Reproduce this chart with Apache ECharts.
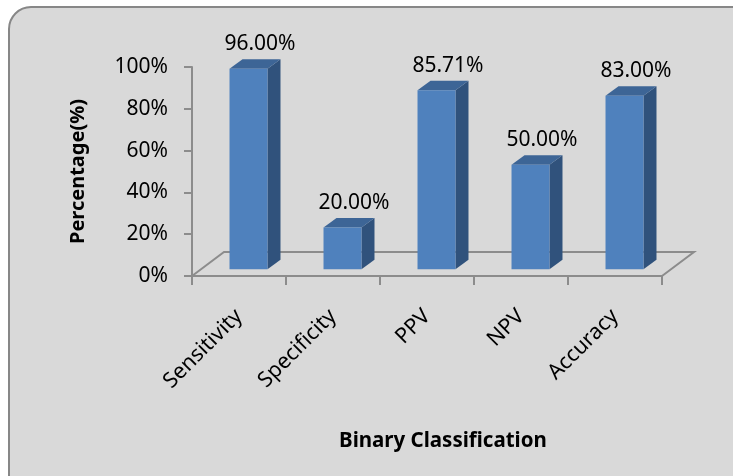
<!DOCTYPE html>
<html>
<head>
<meta charset="utf-8">
<script src="https://cdn.jsdelivr.net/npm/echarts@6/dist/echarts.min.js"></script>
<style>
html,body{margin:0;padding:0;background:#ffffff;}
#chart{width:733px;height:476px;}
</style>
</head>
<body>
<div id="chart"></div>
<script>
var categories = ['Sensitivity', 'Specificity', 'PPV', 'NPV', 'Accuracy'];
var values = [96.00, 20.00, 85.71, 50.00, 83.00];
var yTicks = [0, 20, 40, 60, 80, 100];

var FONT = '"Noto Sans", sans-serif';
var chart = echarts.init(document.getElementById('chart'));

var barData = categories.map(function (c, i) { return [i, values[i]]; });

function renderBar(params, api) {
  var i = api.value(0), v = api.value(1);
  var base = api.coord([i, 0]);
  var top = api.coord([i, v]);
  var cw = api.size([1, 0])[0];
  var w = cw * 0.404;
  var ox = 9.5, oy = -6.7, dx = 13, dy = -9.5;
  var x0 = base[0] + ox - w / 2, x1 = x0 + w;
  var yb = base[1] + oy, yt = top[1] + oy;
  return {
    type: 'group',
    children: [
      { type: 'polygon', shape: { points: [[x1, yt], [x1 + dx, yt + dy], [x1 + dx, yb + dy], [x1, yb]] },
        style: { fill: '#30527c' } },
      { type: 'polygon', shape: { points: [[x0, yt], [x0 + dx, yt + dy], [x1 + dx, yt + dy], [x1, yt]] },
        style: { fill: '#3d6596' } },
      { type: 'rect', shape: { x: x0, y: yt, width: w, height: yb - yt },
        style: { fill: '#4f81bd' } },
      { type: 'text', style: { text: v.toFixed(2) + '%', x: x0 + w / 2 + 11.5, y: yt + dy - 15,
        textAlign: 'center', textVerticalAlign: 'middle', font: '21px ' + FONT, fill: '#000' } }
    ]
  };
}

function renderFloor(params, api) {
  var cs = params.coordSys;
  var fx = 32, fy = -24;
  var bx = cs.x, by = cs.y + cs.height, ex = cs.x + cs.width;
  return {
    type: 'polyline',
    shape: { points: [[bx, by], [bx + fx, by + fy], [ex + fx, by + fy], [ex, by]] },
    style: { stroke: '#8c8c8c', lineWidth: 2, fill: null }
  };
}

chart.setOption({
  animation: false,
  backgroundColor: '#ffffff',
  graphic: [{
    type: 'rect', z: -10,
    shape: { x: 9, y: 7, width: 760, height: 500, r: 22 },
    style: { fill: '#d9d9d9', stroke: '#878787', lineWidth: 2 }
  }],
  title: {
    text: 'Binary Classification',
    left: 334, top: 426,
    textStyle: { fontFamily: FONT, fontWeight: 'bold', fontSize: 20.5, color: '#000' }
  },
  grid: { left: 192, right: 71, top: 67, bottom: 200 },
  xAxis: {
    type: 'category',
    data: categories,
    axisLine: { lineStyle: { color: '#8c8c8c', width: 2 } },
    axisTick: { show: true, length: 9, lineStyle: { color: '#8c8c8c', width: 2 } },
    axisLabel: { rotate: 45, margin: 37, fontFamily: FONT, fontSize: 21.5, color: '#000' }
  },
  yAxis: {
    type: 'value',
    min: yTicks[0], max: yTicks[yTicks.length - 1], interval: 20,
    name: 'Percentage(%)',
    nameLocation: 'middle',
    nameGap: 104,
    nameTextStyle: { fontFamily: FONT, fontWeight: 'bold', fontSize: 20, color: '#000' },
    axisLine: { show: true, lineStyle: { color: '#8c8c8c', width: 2 } },
    axisTick: { show: true, length: 8, lineStyle: { color: '#8c8c8c', width: 2 } },
    splitLine: { show: false },
    axisLabel: { margin: 24, formatter: '{value}%', fontFamily: FONT, fontSize: 21, color: '#000' }
  },
  series: [
    { type: 'custom', renderItem: renderFloor, data: [[0, 0]], z: 1, silent: true },
    { type: 'custom', renderItem: renderBar, data: barData, z: 3 }
  ]
});
</script>
</body>
</html>
